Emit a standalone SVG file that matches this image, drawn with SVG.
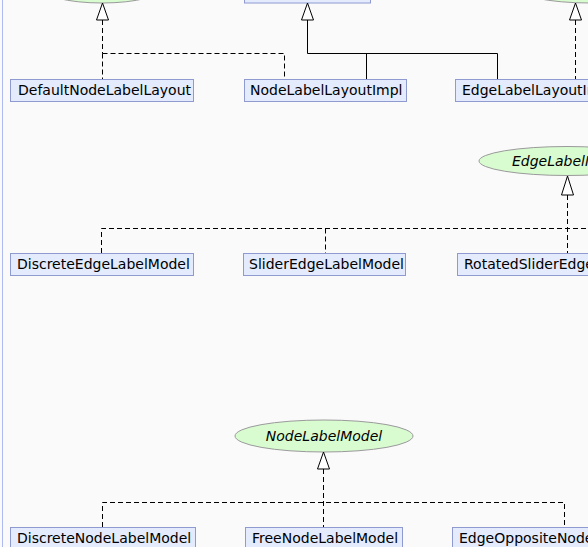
<svg xmlns="http://www.w3.org/2000/svg" width="588" height="547" viewBox="0 0 588 547">
<defs>
<style>
.bg{fill:#fafafa}
.cls rect{fill:#e3ebfd;stroke:#8e9ad0;stroke-width:1}
.ifc ellipse{fill:#d8fcd0;stroke:#9a9a9a;stroke-width:1}
text{font-family:"DejaVu Sans","Liberation Sans",sans-serif;font-size:14px;fill:#000}
.ifc text{font-style:italic}
.edge{fill:none;stroke:#000;stroke-width:1}
.dash{stroke-dasharray:5,3}
.head{fill:#fff;stroke:#000;stroke-width:1}
</style>
</defs>
<rect class="bg" x="0" y="0" width="588" height="547"/>
<line x1="2.5" y1="0" x2="2.5" y2="547" stroke="#b0baf2" stroke-width="1"/>

<g id="NodeLabelLayoutIfc" class="ifc"><ellipse cx="102" cy="-13" rx="62" ry="16"/></g>
<g id="NodeLabelLayout" class="cls"><rect x="244.5" y="-20" width="126" height="23"/></g>
<g id="EdgeLabelLayoutIfc" class="ifc"><ellipse cx="590" cy="-13" rx="75" ry="16"/></g>

<g id="DefaultNodeLabelLayout" class="cls"><rect x="10.5" y="79.5" width="183" height="22"/><text x="18" y="95">DefaultNodeLabelLayout</text></g>
<g id="NodeLabelLayoutImpl" class="cls"><rect x="244.5" y="79.5" width="162" height="22"/><text x="250" y="95">NodeLabelLayoutImpl</text></g>
<g id="EdgeLabelLayoutImpl" class="cls"><rect x="455.5" y="79.5" width="170" height="22"/><text x="462" y="95">EdgeLabelLayoutImpl</text></g>

<g id="EdgeLabelModel" class="ifc"><ellipse cx="567" cy="161" rx="88" ry="14.5"/><text x="512" y="166">EdgeLabelModel</text></g>

<g id="DiscreteEdgeLabelModel" class="cls"><rect x="10.5" y="253.5" width="183" height="22"/><text x="17" y="269">DiscreteEdgeLabelModel</text></g>
<g id="SliderEdgeLabelModel" class="cls"><rect x="243.5" y="253.5" width="162" height="22"/><text x="249" y="269">SliderEdgeLabelModel</text></g>
<g id="RotatedSliderEdgeLabelModel" class="cls"><rect x="457.5" y="253.5" width="230" height="22"/><text x="464" y="269">RotatedSliderEdgeLabelModel</text></g>

<g id="NodeLabelModel" class="ifc"><ellipse cx="324" cy="436" rx="89" ry="16"/><text x="324" y="441" text-anchor="middle">NodeLabelModel</text></g>

<g id="DiscreteNodeLabelModel" class="cls"><rect x="10.5" y="527.5" width="185" height="22"/><text x="17" y="543">DiscreteNodeLabelModel</text></g>
<g id="FreeNodeLabelModel" class="cls"><rect x="245.5" y="527.5" width="157" height="22"/><text x="252" y="543">FreeNodeLabelModel</text></g>
<g id="EdgeOppositeNodeLabelModel" class="cls"><rect x="452.5" y="527.5" width="230" height="22"/><text x="459" y="543">EdgeOppositeNodeLabelModel</text></g>

<g id="connectors">
<path class="edge dash" d="M102.5,20 V53.5 M102.5,53.5 V79 M102.5,53.5 H284.5 V79"/>
<polygon class="head" points="102.5,3 96.5,20 108.5,20"/>
<path class="edge" d="M307.5,20 V53.5 H497.5 V79 M366.5,53.5 V79"/>
<polygon class="head" points="307.5,3 301.5,20 313.5,20"/>
<path class="edge dash" d="M575.5,20 V79"/>
<polygon class="head" points="575.5,3 569.5,20 581.5,20"/>

<path class="edge dash" d="M567.5,195 V253 M101.5,253 V228.5 H600 M325.5,228.5 V253"/>
<polygon class="head" points="567.5,176 561.5,195 573.5,195"/>

<path class="edge dash" d="M323.5,469 V527 M102.5,527 V502.5 H564.5 V527"/>
<polygon class="head" points="323.5,452 317.5,469 329.5,469"/>
</g>
</svg>
